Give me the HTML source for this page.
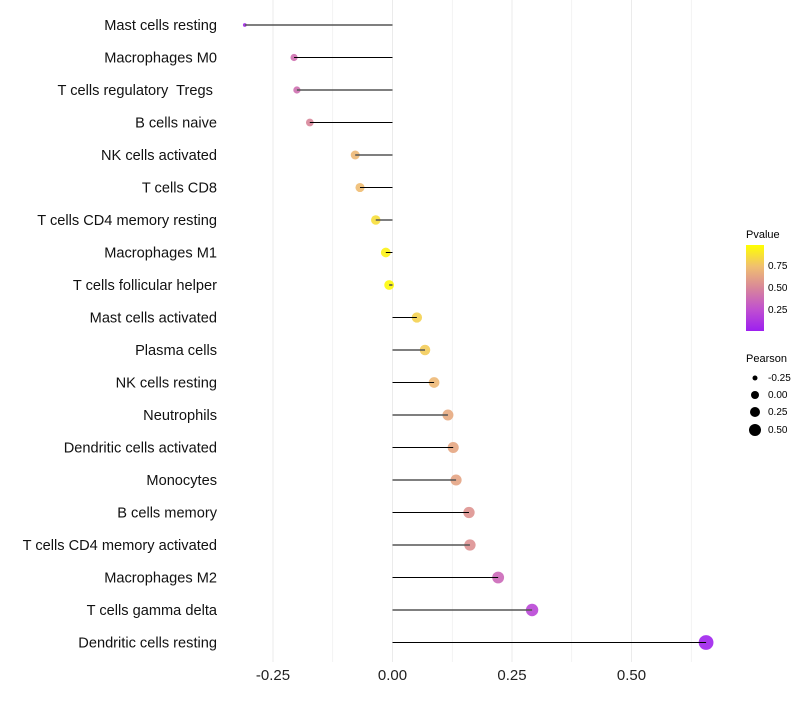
<!DOCTYPE html>
<html><head><meta charset="utf-8"><style>
body{margin:0;background:#fff;font-family:"Liberation Sans",sans-serif}
text{white-space:pre}
</style></head><body>
<svg id="chart" width="800" height="700" xmlns="http://www.w3.org/2000/svg" font-family="Liberation Sans, sans-serif">
<defs><linearGradient id="pg" x1="0" y1="1" x2="0" y2="0">
<stop offset="0" stop-color="#9d1ff0"/><stop offset="0.25" stop-color="#c050d0"/><stop offset="0.5" stop-color="#d8869a"/><stop offset="0.75" stop-color="#f0bf70"/><stop offset="1" stop-color="#ffff00"/></linearGradient></defs>
<g id="grid"></g><g id="points"></g><g id="marks"></g><g id="labels"></g><g id="ticks"></g>
<g font-size="10">
<text x="746" y="238" font-size="11">Pvalue</text>
<rect x="746" y="245" width="18" height="86" fill="url(#pg)"/>
<text x="768" y="269">0.75</text><text x="768" y="291">0.50</text><text x="768" y="313">0.25</text>
<text x="746" y="362" font-size="11">Pearson</text>
<circle cx="755" cy="378" r="2.5"/><text x="768" y="381">-0.25</text>
<circle cx="755" cy="395" r="4"/><text x="768" y="398">0.00</text>
<circle cx="755" cy="412" r="5"/><text x="768" y="415">0.25</text>
<circle cx="755" cy="430" r="6"/><text x="768" y="433">0.50</text>
</g>
</svg>
<script>
const categories=["Mast cells resting","Macrophages M0","T cells regulatory  Tregs ","B cells naive","NK cells activated","T cells CD8","T cells CD4 memory resting","Macrophages M1","T cells follicular helper","Mast cells activated","Plasma cells","NK cells resting","Neutrophils","Dendritic cells activated","Monocytes","B cells memory","T cells CD4 memory activated","Macrophages M2","T cells gamma delta","Dendritic cells resting"];
const pearson=[-0.309,-0.206,-0.200,-0.173,-0.078,-0.068,-0.035,-0.014,-0.007,0.051,0.068,0.087,0.116,0.127,0.133,0.160,0.162,0.221,0.292,0.656];
const pvalue=[0.05,0.4,0.4,0.5,0.72,0.74,0.87,0.95,0.98,0.82,0.8,0.72,0.66,0.64,0.63,0.56,0.55,0.36,0.2,0.02];
const xTicks=[-0.25,0,0.25,0.5];
const xTickLabels=["-0.25","0.00","0.25","0.50"];
const NS="http://www.w3.org/2000/svg";
const x=v=>392.5+v*478, y=i=>25+i*32.5;
const r=v=>1.7+5.8*Math.sqrt(Math.max(0,v+0.31));
const stops=[[0,[157,31,240]],[0.25,[192,80,208]],[0.5,[216,134,154]],[0.75,[240,191,112]],[1,[255,255,0]]];
function col(p){for(let k=0;k<stops.length-1;k++){const[a,ca]=stops[k],[b,cb]=stops[k+1];if(p<=b){const t=(p-a)/(b-a);return "rgb("+ca.map((c,j)=>Math.round(c+(cb[j]-c)*t)).join(",")+")";}}return "rgb(255,255,0)";}
function mk(t,a,p){const e=document.createElementNS(NS,t);for(const k in a)e.setAttribute(k,a[k]);document.getElementById(p).appendChild(e);return e;}
for(let v=-0.25;v<=0.626;v+=0.125){const g=mk("line",{x1:x(v),x2:x(v),y1:0,y2:662,stroke:"#ebebeb","stroke-width":Math.abs(v/0.25-Math.round(v/0.25))<0.01?1:0.6},"grid");

}
xTicks.forEach((v,i)=>{const t=mk("text",{x:x(v),y:680,"text-anchor":"middle","font-size":15,fill:"#222"},"ticks");t.textContent=xTickLabels[i];

});
categories.forEach((c,i)=>{
const p=mk("circle",{cx:x(pearson[i]),cy:y(i),r:r(pearson[i]),fill:col(pvalue[i]),"fill-opacity":0.9},"points");


const l=mk("line",{x1:x(0),x2:x(pearson[i]),y1:y(i),y2:y(i),stroke:i%2?"#000":"#555","stroke-width":i%2?1:1.6},"marks");


const t=mk("text",{x:217,y:y(i)+5,"text-anchor":"end","font-size":14.6,fill:"#111"},"labels");t.textContent=c;


});
</script>
</body></html>
